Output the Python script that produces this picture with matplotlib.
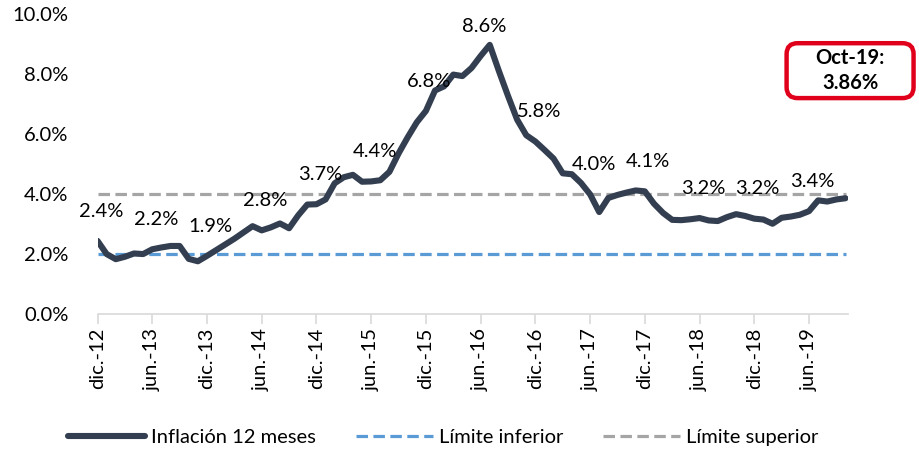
import matplotlib
matplotlib.use("Agg")
import matplotlib.pyplot as plt
from matplotlib.patches import FancyBboxPatch
from matplotlib.ticker import FuncFormatter

plt.rcParams['font.family'] = ['Lato', 'DejaVu Sans']

# inflacion 12 meses, dic-12 .. oct-19 (%)
inflacion = [2.44,
             2.00, 1.83, 1.91, 2.02, 2.00, 2.16, 2.22, 2.27, 2.27, 1.84, 1.76, 1.94,
             2.13, 2.32, 2.51, 2.72, 2.93, 2.79, 2.89, 3.02, 2.86, 3.29, 3.65, 3.66,
             3.82, 4.36, 4.56, 4.64, 4.41, 4.42, 4.46, 4.74, 5.35, 5.89, 6.39, 6.77,
             7.45, 7.59, 7.98, 7.93, 8.20, 8.60, 8.97, 8.10, 7.27, 6.48, 5.96, 5.75,
             5.47, 5.18, 4.69, 4.66, 4.37, 3.99, 3.40, 3.87, 3.97, 4.05, 4.12, 4.09,
             3.68, 3.37, 3.14, 3.13, 3.16, 3.20, 3.12, 3.10, 3.23, 3.33, 3.27, 3.18,
             3.15, 3.01, 3.21, 3.25, 3.31, 3.43, 3.79, 3.75, 3.82, 3.86]
limite_inferior = 2.0
limite_superior = 4.0
tick_labels = ['dic.-12', 'jun.-13', 'dic.-13', 'jun.-14', 'dic.-14', 'jun.-15',
               'dic.-15', 'jun.-16', 'dic.-16', 'jun.-17', 'dic.-17', 'jun.-18',
               'dic.-18', 'jun.-19']
ultimo = 'Oct-19:\n3.86%'

x = list(range(len(inflacion)))
fs = 14.5

fig = plt.figure(figsize=(9.2, 4.5), dpi=100)
ax = fig.add_axes([0.106, 0.302, 0.816, 0.667])

ax.plot(x, inflacion, color='#333F50', lw=4.4, solid_capstyle='round',
        solid_joinstyle='round', label='Inflación 12 meses', zorder=3)
ax.plot([x[0], x[-1]], [limite_inferior] * 2, color='#5B9BD5', lw=2.3,
        dashes=(3.6, 1.7), label='Límite inferior', zorder=2)
ax.plot([x[0], x[-1]], [limite_superior] * 2, color='#A5A5A5', lw=2.3,
        dashes=(3.6, 1.7), label='Límite superior', zorder=2)

# etiquetas cada 6 meses
for i in range(0, len(inflacion), 6):
    ax.annotate('%.1f%%' % inflacion[i], (x[i], inflacion[i]), xytext=(2.5, 21.5),
                textcoords='offset points', ha='center', va='center', fontsize=fs)

ax.set_xlim(0, 82.3)
ax.set_ylim(0, 10)
ax.set_yticks([0, 2, 4, 6, 8, 10])
ax.yaxis.set_major_formatter(FuncFormatter(lambda v, p: '%.1f%%' % v))
ax.set_xticks(range(0, len(inflacion), 6))
ax.set_xticklabels(tick_labels, rotation=90)

for s in ['top', 'right', 'left']:
    ax.spines[s].set_visible(False)
ax.spines['bottom'].set_color('#D9D9D9')
ax.spines['bottom'].set_linewidth(1.2)
ax.tick_params(axis='y', length=0, labelsize=fs, pad=21)
ax.tick_params(axis='x', length=7, width=1.2, color='#D9D9D9', labelsize=fs, pad=3)

# recuadro ultimo dato
box = FancyBboxPatch((0.855, 0.782), 0.138, 0.122, transform=fig.transFigure,
                     boxstyle='round,pad=0,rounding_size=0.012', fc='white',
                     ec='#E0001B', lw=3.2, mutation_aspect=2.0)
fig.patches.append(box)
fig.text(0.924, 0.843, ultimo, ha='center', va='center', fontsize=fs,
         fontweight='bold', linespacing=1.3)

fig.legend(loc='center', bbox_to_anchor=(0.482, 0.028), ncol=3, frameon=False,
           fontsize=fs, handlelength=3.8, handletextpad=0.3, columnspacing=2.0)

fig.savefig('out.png', dpi=100)
